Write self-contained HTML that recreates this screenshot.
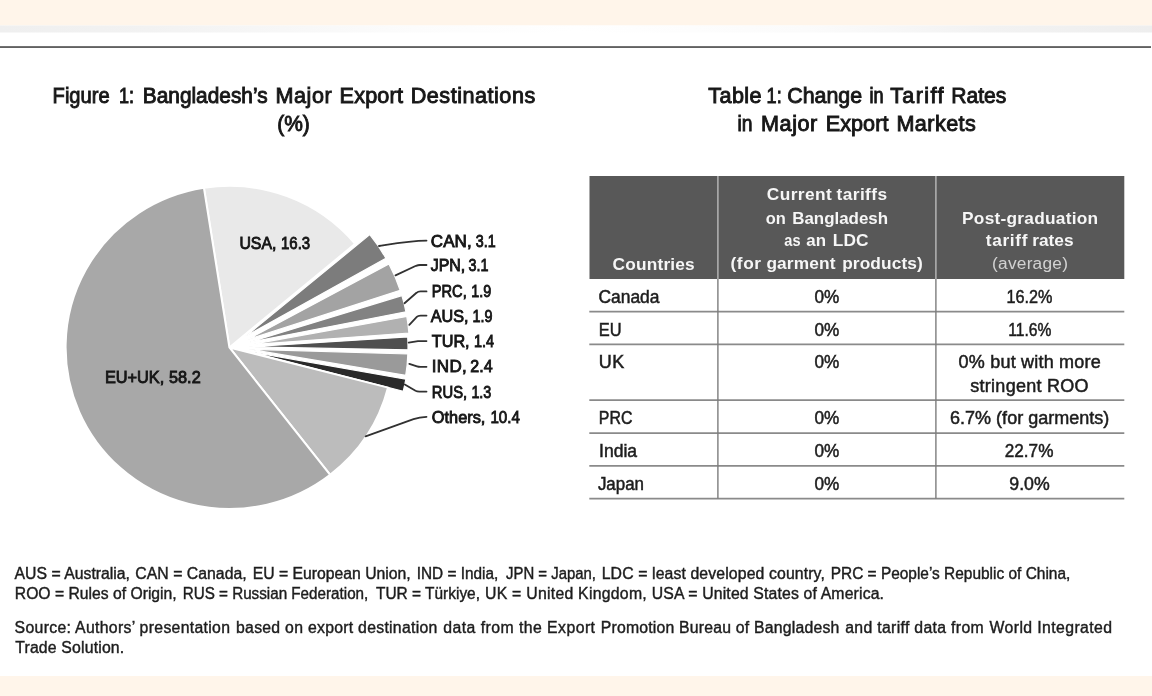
<!DOCTYPE html>
<html lang="en"><head><meta charset="utf-8"><title>Figure 1 and Table 1</title>
<style>
html,body{margin:0;padding:0;background:#fff;}
body{width:1152px;height:696px;overflow:hidden;font-family:"Liberation Sans",sans-serif;}
svg{display:block;font-family:"Liberation Sans",sans-serif;}
</style></head><body>
<svg width="1152" height="696" viewBox="0 0 1152 696">
<rect x="0" y="0" width="1152" height="696" fill="#ffffff"/>
<defs><linearGradient id="strip" x1="0" y1="0" x2="1" y2="0">
<stop offset="0" stop-color="#efefef"/><stop offset="0.13" stop-color="#f2f2f2"/><stop offset="0.36" stop-color="#fcfcfc"/>
<stop offset="0.5" stop-color="#ffffff"/><stop offset="0.7" stop-color="#fbfbfb"/><stop offset="0.86" stop-color="#f2f2f2"/><stop offset="1" stop-color="#eeeeee"/>
</linearGradient>
<filter id="soft" x="-2%" y="-2%" width="104%" height="104%" filterUnits="objectBoundingBox"><feGaussianBlur stdDeviation="0.5"/></filter></defs>
<rect x="0" y="0" width="1152" height="25.5" fill="#fff5ea"/>
<rect x="0" y="25.5" width="1152" height="7" fill="url(#strip)"/>
<rect x="0" y="46.2" width="1151" height="1.7" fill="#505050"/>
<rect x="0" y="676" width="1152" height="20" fill="#fff5ea"/>
<g id="content" filter="url(#soft)">
<g id="pie">
<path transform="translate(229.4 347.45) scale(1.0068 0.9932) translate(-229.4 -347.3)" d="M229.40 347.30L204.09 186.58A162.7 162.7 0 0 1 354.27 243.00Z" fill="#e9e9e9" stroke="#fff" stroke-width="2" stroke-linejoin="miter" stroke-miterlimit="60"/>
<path d="M245.53 336.34L369.77 234.58A160.6 160.6 0 0 1 385.91 258.33Z" fill="#7b7b7b" stroke="#fff" stroke-width="1.2" stroke-linejoin="miter" stroke-miterlimit="60"/>
<path d="M247.35 339.67L388.94 263.88A160.6 160.6 0 0 1 400.17 290.31Z" fill="#a3a3a3" stroke="#fff" stroke-width="1.2" stroke-linejoin="miter" stroke-miterlimit="60"/>
<path d="M248.32 342.57L401.90 295.62A160.6 160.6 0 0 1 405.94 311.76Z" fill="#828282" stroke="#fff" stroke-width="1.2" stroke-linejoin="miter" stroke-miterlimit="60"/>
<path d="M248.75 344.86L406.83 316.53A160.6 160.6 0 0 1 408.91 333.04Z" fill="#b1b1b1" stroke="#fff" stroke-width="1.2" stroke-linejoin="miter" stroke-miterlimit="60"/>
<path d="M248.90 346.87L407.69 336.97A159.1 159.1 0 0 1 407.97 349.85Z" fill="#4f4f4f" stroke="#fff" stroke-width="1.2" stroke-linejoin="miter" stroke-miterlimit="60"/>
<path d="M248.81 349.20L407.84 353.97A159.1 159.1 0 0 1 405.74 375.35Z" fill="#9a9a9a" stroke="#fff" stroke-width="1.2" stroke-linejoin="miter" stroke-miterlimit="60"/>
<path d="M248.46 351.44L405.81 379.27A159.79999999999998 159.79999999999998 0 0 1 403.19 391.37Z" fill="#2b2b2b" stroke="#fff" stroke-width="1.2" stroke-linejoin="miter" stroke-miterlimit="60"/>
<path transform="translate(229.4 347.45) scale(1.0068 0.9932) translate(-229.4 -347.3)" d="M229.40 347.30L387.00 387.73A162.7 162.7 0 0 1 329.50 475.56Z" fill="#bcbcbc" stroke="#fff" stroke-width="2" stroke-linejoin="miter" stroke-miterlimit="60"/>
<path transform="translate(229.4 347.45) scale(1.0068 0.9932) translate(-229.4 -347.3)" d="M229.40 347.30L329.50 475.56A162.7 162.7 0 1 1 204.09 186.58Z" fill="#a8a8a8" stroke="#fff" stroke-width="2" stroke-linejoin="miter" stroke-miterlimit="60"/>
</g>
<g id="leaders">
<path d="M379 246 C395 243.5 410 240.8 426.5 240.6" fill="none" stroke="#303030" stroke-width="1.8" stroke-linecap="round" stroke-linejoin="round"/>
<path d="M395.5 275.4 L416 265.8 Q418 265 420 265 L426.5 265" fill="none" stroke="#303030" stroke-width="1.8" stroke-linecap="round" stroke-linejoin="round"/>
<path d="M404.5 303.2 L416.5 292.8 Q418 291.4 420.5 291.4 L426.5 291.4" fill="none" stroke="#303030" stroke-width="1.8" stroke-linecap="round" stroke-linejoin="round"/>
<path d="M409.3 324.8 L416.8 316.9 Q418 315.6 420.5 315.6 L426.5 315.6" fill="none" stroke="#303030" stroke-width="1.8" stroke-linecap="round" stroke-linejoin="round"/>
<path d="M408.7 342.6 L418 341.1 L426.5 341.1" fill="none" stroke="#303030" stroke-width="1.8" stroke-linecap="round" stroke-linejoin="round"/>
<path d="M409.3 363.8 L417 366.3 Q418.5 366.8 420.5 366.8 L426.5 366.8" fill="none" stroke="#303030" stroke-width="1.8" stroke-linecap="round" stroke-linejoin="round"/>
<path d="M404.8 384.4 L415.5 390.8 Q417 391.6 419.5 391.6 L426.5 391.6" fill="none" stroke="#303030" stroke-width="1.8" stroke-linecap="round" stroke-linejoin="round"/>
<path d="M365.6 436.3 L413.5 419.2 Q419.5 417 426.5 416.8" fill="none" stroke="#303030" stroke-width="1.8" stroke-linecap="round" stroke-linejoin="round"/>
</g>
<g id="table">
<rect x="589.5" y="176" width="534.8" height="103" fill="#595959"/>
<line x1="589.3" y1="311.6" x2="1124.3" y2="311.6" stroke="#8a8a8a" stroke-width="1.8"/>
<line x1="589.3" y1="344.4" x2="1124.3" y2="344.4" stroke="#8a8a8a" stroke-width="1.8"/>
<line x1="589.3" y1="400.2" x2="1124.3" y2="400.2" stroke="#8a8a8a" stroke-width="1.8"/>
<line x1="589.3" y1="433.2" x2="1124.3" y2="433.2" stroke="#8a8a8a" stroke-width="1.8"/>
<line x1="589.3" y1="465.8" x2="1124.3" y2="465.8" stroke="#8a8a8a" stroke-width="1.8"/>
<line x1="589.3" y1="498.7" x2="1124.3" y2="498.7" stroke="#8a8a8a" stroke-width="1.8"/>
<line x1="717.9" y1="176" x2="717.9" y2="279" stroke="#b4b4b4" stroke-width="1.5"/>
<line x1="717.9" y1="279" x2="717.9" y2="498.6" stroke="#7c7c7c" stroke-width="1.4"/>
<line x1="935.9" y1="176" x2="935.9" y2="279" stroke="#b4b4b4" stroke-width="1.5"/>
<line x1="935.9" y1="279" x2="935.9" y2="498.6" stroke="#7c7c7c" stroke-width="1.4"/>
</g>
<g id="text">
<text y="103.3" font-size="21.6" font-weight="normal" fill="#151515" stroke="#151515" stroke-width="0.9"><tspan x="52.6" textLength="57.0" lengthAdjust="spacingAndGlyphs">Figure</tspan> <tspan x="118.9" textLength="15.1" lengthAdjust="spacingAndGlyphs">1:</tspan> <tspan x="142.8" textLength="124.8" lengthAdjust="spacingAndGlyphs">Bangladesh’s</tspan> <tspan x="275.4" textLength="56.4" lengthAdjust="spacing">Major</tspan> <tspan x="339.6" textLength="63.3" lengthAdjust="spacing">Export</tspan> <tspan x="410.7" textLength="124.5" lengthAdjust="spacing">Destinations</tspan></text>
<text y="130.6" font-size="21.6" font-weight="normal" fill="#151515" stroke="#151515" stroke-width="0.9"><tspan x="277.2" textLength="32.6" lengthAdjust="spacingAndGlyphs">(%)</tspan></text>
<text y="103.3" font-size="21.6" font-weight="normal" fill="#151515" stroke="#151515" stroke-width="0.9"><tspan x="708.3" textLength="53.3" lengthAdjust="spacing">Table</tspan> <tspan x="766.6" textLength="15.1" lengthAdjust="spacingAndGlyphs">1:</tspan> <tspan x="787.2" textLength="74.9" lengthAdjust="spacingAndGlyphs">Change</tspan> <tspan x="869.4" textLength="14.1" lengthAdjust="spacingAndGlyphs">in</tspan> <tspan x="890.2" textLength="53.2" lengthAdjust="spacing">Tariff</tspan> <tspan x="951.2" textLength="55.2" lengthAdjust="spacingAndGlyphs">Rates</tspan></text>
<text y="131.0" font-size="21.6" font-weight="normal" fill="#151515" stroke="#151515" stroke-width="0.9"><tspan x="737.6" textLength="15.0" lengthAdjust="spacingAndGlyphs">in</tspan> <tspan x="761.1" textLength="56.1" lengthAdjust="spacing">Major</tspan> <tspan x="825.7" textLength="62.7" lengthAdjust="spacing">Export</tspan> <tspan x="896.4" textLength="79.4" lengthAdjust="spacing">Markets</tspan></text>
<text y="246.5" font-size="17" font-weight="normal" fill="#141414" stroke="#141414" stroke-width="0.85"><tspan x="430.8" textLength="40.9" lengthAdjust="spacing">CAN,</tspan> <tspan x="475.8" textLength="19.9" lengthAdjust="spacingAndGlyphs">3.1</tspan></text>
<text y="271.4" font-size="17" font-weight="normal" fill="#141414" stroke="#141414" stroke-width="0.85"><tspan x="430.8" textLength="34.5" lengthAdjust="spacingAndGlyphs">JPN,</tspan> <tspan x="468.6" textLength="19.9" lengthAdjust="spacingAndGlyphs">3.1</tspan></text>
<text y="296.9" font-size="17" font-weight="normal" fill="#141414" stroke="#141414" stroke-width="0.85"><tspan x="431.8" textLength="34.9" lengthAdjust="spacingAndGlyphs">PRC,</tspan> <tspan x="471.3" textLength="19.9" lengthAdjust="spacingAndGlyphs">1.9</tspan></text>
<text y="322.1" font-size="17" font-weight="normal" fill="#141414" stroke="#141414" stroke-width="0.85"><tspan x="430.8" textLength="37.8" lengthAdjust="spacingAndGlyphs">AUS,</tspan> <tspan x="472.6" textLength="19.9" lengthAdjust="spacingAndGlyphs">1.9</tspan></text>
<text y="347.4" font-size="17" font-weight="normal" fill="#141414" stroke="#141414" stroke-width="0.85"><tspan x="431.8" textLength="37.8" lengthAdjust="spacingAndGlyphs">TUR,</tspan> <tspan x="473.9" textLength="20.1" lengthAdjust="spacingAndGlyphs">1.4</tspan></text>
<text y="372.3" font-size="17" font-weight="normal" fill="#141414" stroke="#141414" stroke-width="0.85"><tspan x="431.8" textLength="34.9" lengthAdjust="spacing">IND,</tspan> <tspan x="470.3" textLength="22.3" lengthAdjust="spacingAndGlyphs">2.4</tspan></text>
<text y="397.6" font-size="17" font-weight="normal" fill="#141414" stroke="#141414" stroke-width="0.85"><tspan x="431.8" textLength="35.3" lengthAdjust="spacingAndGlyphs">RUS,</tspan> <tspan x="471.4" textLength="19.9" lengthAdjust="spacingAndGlyphs">1.3</tspan></text>
<text y="422.8" font-size="17" font-weight="normal" fill="#141414" stroke="#141414" stroke-width="0.85"><tspan x="431.8" textLength="53.6" lengthAdjust="spacingAndGlyphs">Others,</tspan> <tspan x="490.4" textLength="29.5" lengthAdjust="spacingAndGlyphs">10.4</tspan></text>
<text y="249.2" font-size="17" font-weight="normal" fill="#141414" stroke="#141414" stroke-width="0.85"><tspan x="239.4" textLength="37.0" lengthAdjust="spacingAndGlyphs">USA,</tspan> <tspan x="281" textLength="29.2" lengthAdjust="spacingAndGlyphs">16.3</tspan></text>
<text y="382.9" font-size="17" font-weight="normal" fill="#141414" stroke="#141414" stroke-width="0.85"><tspan x="104.9" textLength="59.4" lengthAdjust="spacingAndGlyphs">EU+UK,</tspan> <tspan x="169" textLength="31.7" lengthAdjust="spacingAndGlyphs">58.2</tspan></text>
<text y="270.3" font-size="17.3" font-weight="bold" fill="#f6f6f6"><tspan x="612.6" textLength="82.1" lengthAdjust="spacing">Countries</tspan></text>
<text y="200.3" font-size="17.3" font-weight="bold" fill="#f6f6f6"><tspan x="766.8" textLength="64.9" lengthAdjust="spacing">Current</tspan> <tspan x="836.5" textLength="50.6" lengthAdjust="spacing">tariffs</tspan></text>
<text y="223.6" font-size="17.3" font-weight="bold" fill="#f6f6f6"><tspan x="765.8" textLength="20.1" lengthAdjust="spacingAndGlyphs">on</tspan> <tspan x="792.2" textLength="95.9" lengthAdjust="spacingAndGlyphs">Bangladesh</tspan></text>
<text y="246.3" font-size="17.3" font-weight="bold" fill="#f6f6f6"><tspan x="784.3" textLength="16.2" lengthAdjust="spacingAndGlyphs">as</tspan> <tspan x="806.3" textLength="19.7" lengthAdjust="spacingAndGlyphs">an</tspan> <tspan x="832.7" textLength="35.9" lengthAdjust="spacing">LDC</tspan></text>
<text y="268.9" font-size="17.3" font-weight="bold" fill="#f6f6f6"><tspan x="730.5" textLength="30.6" lengthAdjust="spacing">(for</tspan> <tspan x="766.4" textLength="69.1" lengthAdjust="spacing">garment</tspan> <tspan x="842.2" textLength="80.6" lengthAdjust="spacing">products)</tspan></text>
<text y="223.6" font-size="17.3" font-weight="bold" fill="#f6f6f6"><tspan x="962.1" textLength="136.0" lengthAdjust="spacing">Post-graduation</tspan></text>
<text y="246.3" font-size="17.3" font-weight="bold" fill="#f6f6f6"><tspan x="985.8" textLength="41.6" lengthAdjust="spacing">tariff</tspan> <tspan x="1032.2" textLength="41.4" lengthAdjust="spacing">rates</tspan></text>
<text y="269.1" font-size="17.3" font-weight="normal" fill="#d2d2d2"><tspan x="992.1" textLength="75.8" lengthAdjust="spacing">(average)</tspan></text>
<text y="302.7" font-size="18" font-weight="normal" fill="#1c1c1c" stroke="#1c1c1c" stroke-width="0.5"><tspan x="598.4" textLength="61.1" lengthAdjust="spacingAndGlyphs">Canada</tspan></text>
<text y="335.7" font-size="18" font-weight="normal" fill="#1c1c1c" stroke="#1c1c1c" stroke-width="0.5"><tspan x="598.8" textLength="22.8" lengthAdjust="spacingAndGlyphs">EU</tspan></text>
<text y="368.1" font-size="18" font-weight="normal" fill="#1c1c1c" stroke="#1c1c1c" stroke-width="0.5"><tspan x="598.8" textLength="25.5" lengthAdjust="spacing">UK</tspan></text>
<text y="424.0" font-size="18" font-weight="normal" fill="#1c1c1c" stroke="#1c1c1c" stroke-width="0.5"><tspan x="598.8" textLength="33.6" lengthAdjust="spacingAndGlyphs">PRC</tspan></text>
<text y="457.0" font-size="18" font-weight="normal" fill="#1c1c1c" stroke="#1c1c1c" stroke-width="0.5"><tspan x="599.1" textLength="38.0" lengthAdjust="spacingAndGlyphs">India</tspan></text>
<text y="489.6" font-size="18" font-weight="normal" fill="#1c1c1c" stroke="#1c1c1c" stroke-width="0.5"><tspan x="597.9" textLength="46.1" lengthAdjust="spacingAndGlyphs">Japan</tspan></text>
<text y="302.7" font-size="18" font-weight="normal" fill="#1c1c1c" stroke="#1c1c1c" stroke-width="0.5"><tspan x="814.5" textLength="24.8" lengthAdjust="spacingAndGlyphs">0%</tspan></text>
<text y="335.7" font-size="18" font-weight="normal" fill="#1c1c1c" stroke="#1c1c1c" stroke-width="0.5"><tspan x="814.5" textLength="24.8" lengthAdjust="spacingAndGlyphs">0%</tspan></text>
<text y="368.1" font-size="18" font-weight="normal" fill="#1c1c1c" stroke="#1c1c1c" stroke-width="0.5"><tspan x="814.5" textLength="24.8" lengthAdjust="spacingAndGlyphs">0%</tspan></text>
<text y="424.0" font-size="18" font-weight="normal" fill="#1c1c1c" stroke="#1c1c1c" stroke-width="0.5"><tspan x="814.5" textLength="24.8" lengthAdjust="spacingAndGlyphs">0%</tspan></text>
<text y="457.0" font-size="18" font-weight="normal" fill="#1c1c1c" stroke="#1c1c1c" stroke-width="0.5"><tspan x="814.5" textLength="24.8" lengthAdjust="spacingAndGlyphs">0%</tspan></text>
<text y="489.6" font-size="18" font-weight="normal" fill="#1c1c1c" stroke="#1c1c1c" stroke-width="0.5"><tspan x="814.5" textLength="24.8" lengthAdjust="spacingAndGlyphs">0%</tspan></text>
<text y="302.7" font-size="18" font-weight="normal" fill="#1c1c1c" stroke="#1c1c1c" stroke-width="0.5"><tspan x="1006.5" textLength="45.9" lengthAdjust="spacingAndGlyphs">16.2%</tspan></text>
<text y="335.7" font-size="18" font-weight="normal" fill="#1c1c1c" stroke="#1c1c1c" stroke-width="0.5"><tspan x="1008.3" textLength="43.1" lengthAdjust="spacingAndGlyphs">11.6%</tspan></text>
<text y="368.1" font-size="18" font-weight="normal" fill="#1c1c1c" stroke="#1c1c1c" stroke-width="0.5"><tspan x="958.6" textLength="142.1" lengthAdjust="spacing">0% but with more</tspan></text>
<text y="392.4" font-size="18" font-weight="normal" fill="#1c1c1c" stroke="#1c1c1c" stroke-width="0.5"><tspan x="970.3" textLength="118.3" lengthAdjust="spacing">stringent ROO</tspan></text>
<text y="424.0" font-size="18" font-weight="normal" fill="#1c1c1c" stroke="#1c1c1c" stroke-width="0.5"><tspan x="950" textLength="159.3" lengthAdjust="spacing">6.7% (for garments)</tspan></text>
<text y="457.0" font-size="18" font-weight="normal" fill="#1c1c1c" stroke="#1c1c1c" stroke-width="0.5"><tspan x="1004.8" textLength="48.6" lengthAdjust="spacingAndGlyphs">22.7%</tspan></text>
<text y="489.6" font-size="18" font-weight="normal" fill="#1c1c1c" stroke="#1c1c1c" stroke-width="0.5"><tspan x="1009.3" textLength="40.4" lengthAdjust="spacingAndGlyphs">9.0%</tspan></text>
<text y="579.3" font-size="15.8" font-weight="normal" fill="#1c1c1c" stroke="#1c1c1c" stroke-width="0.4"><tspan x="14.6" textLength="115.4" lengthAdjust="spacingAndGlyphs">AUS = Australia,</tspan> <tspan x="135.3" textLength="111.4" lengthAdjust="spacing">CAN = Canada,</tspan> <tspan x="252.7" textLength="158.0" lengthAdjust="spacingAndGlyphs">EU = European Union,</tspan> <tspan x="416.7" textLength="81.6" lengthAdjust="spacingAndGlyphs">IND = India,</tspan> <tspan x="506" textLength="90" lengthAdjust="spacingAndGlyphs">JPN = Japan,</tspan> <tspan x="601.7" textLength="223.1" lengthAdjust="spacing">LDC = least developed country,</tspan> <tspan x="830.7" textLength="239.6" lengthAdjust="spacingAndGlyphs">PRC = People’s Republic of China,</tspan></text>
<text y="599.3" font-size="15.8" font-weight="normal" fill="#1c1c1c" stroke="#1c1c1c" stroke-width="0.4"><tspan x="14.8" textLength="161.9" lengthAdjust="spacingAndGlyphs">ROO = Rules of Origin,</tspan> <tspan x="182.7" textLength="185.6" lengthAdjust="spacingAndGlyphs">RUS = Russian Federation,</tspan> <tspan x="376" textLength="104" lengthAdjust="spacingAndGlyphs">TUR = Türkiye,</tspan> <tspan x="485" textLength="161.7" lengthAdjust="spacing">UK = United Kingdom,</tspan> <tspan x="651.7" textLength="232.3" lengthAdjust="spacing">USA = United States of America.</tspan></text>
<text y="633.4" font-size="15.8" font-weight="normal" fill="#1c1c1c" stroke="#1c1c1c" stroke-width="0.4"><tspan x="14.6" textLength="215.4" lengthAdjust="spacing">Source: Authors’ presentation</tspan> <tspan x="236" textLength="201.3" lengthAdjust="spacing">based on export destination</tspan> <tspan x="443.3" textLength="151.7" lengthAdjust="spacing">data from the Export</tspan> <tspan x="600.7" textLength="238.6" lengthAdjust="spacing">Promotion Bureau of Bangladesh</tspan> <tspan x="845.2" textLength="138.5" lengthAdjust="spacing">and tariff data from</tspan> <tspan x="989.6" textLength="122.4" lengthAdjust="spacing">World Integrated</tspan></text>
<text y="653.2" font-size="15.8" font-weight="normal" fill="#1c1c1c" stroke="#1c1c1c" stroke-width="0.4"><tspan x="15.2" textLength="109.0" lengthAdjust="spacing">Trade Solution.</tspan></text>
</g>
</g>
</svg>
</body></html>
